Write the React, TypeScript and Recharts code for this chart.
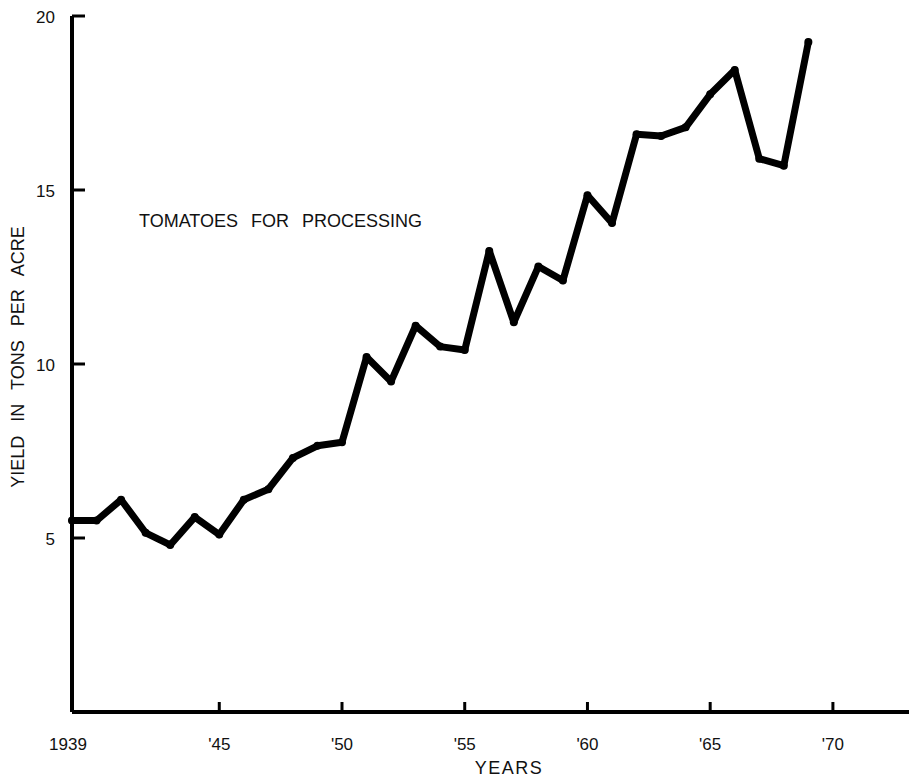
import { LineChart, Line, XAxis, YAxis } from 'recharts';

const years = [
  1939, 1940, 1941, 1942, 1943, 1944, 1945, 1946, 1947, 1948, 1949,
  1950, 1951, 1952, 1953, 1954, 1955, 1956, 1957, 1958, 1959,
  1960, 1961, 1962, 1963, 1964, 1965, 1966, 1967, 1968, 1969,
];
const yields = [
  5.5, 5.5, 6.1, 5.15, 4.8, 5.6, 5.1, 6.1, 6.4, 7.3, 7.65,
  7.75, 10.2, 9.5, 11.1, 10.5, 10.4, 13.25, 11.2, 12.8, 12.4,
  14.85, 14.05, 16.6, 16.55, 16.8, 17.75, 18.45, 15.9, 15.7, 19.25,
];
const xTicks = [1939, 1945, 1950, 1955, 1960, 1965, 1970];
const yTicks = [5, 10, 15, 20];

const data = years.map((year, i) => ({ year, yield: yields[i] }));

const FONT = '"Liberation Sans", Arial, sans-serif';

const fmtYear = (v: number) => (v === 1939 ? '1939' : `'${String(v).slice(2)}`);

function YTick({ x, y, payload }: any) {
  return (
    <g>
      <line x1={x} x2={x + 13} y1={y} y2={y} stroke="#000" strokeWidth={3} />
      <text
        x={x - 17}
        y={y + 1}
        dy="0.35em"
        textAnchor="end"
        fontFamily={FONT}
        fontSize={17}
        fill="#111"
      >
        {payload.value}
      </text>
    </g>
  );
}

function XTick({ x, y, payload }: any) {
  return (
    <g>
      {payload.value !== 1939 && (
        <line x1={x} x2={x} y1={y} y2={y - 10} stroke="#000" strokeWidth={3} />
      )}
      <text
        x={payload.value === 1939 ? x - 4 : x}
        y={y + 38}
        textAnchor="middle"
        fontFamily={FONT}
        fontSize={17}
        fill="#111"
      >
        {fmtYear(payload.value)}
      </text>
    </g>
  );
}

export default function App() {
  return (
    <div style={{ position: 'absolute', left: 0, top: 0, width: 909, height: 779, background: '#fff' }}>
      <LineChart
        width={909}
        height={779}
        data={data}
        margin={{ top: 16, right: 0, bottom: 0, left: 0 }}
      >
        <XAxis
          dataKey="year"
          type="number"
          domain={[1939, 1973.1]}
          ticks={xTicks}
          interval={0}
          height={67}
          tickSize={0}
          tickMargin={0}
          tickLine={false}
          axisLine={{ stroke: '#000', strokeWidth: 4 }}
          tick={<XTick />}
        />
        <YAxis
          type="number"
          domain={[0, 20]}
          ticks={yTicks}
          interval={0}
          width={72}
          tickSize={0}
          tickMargin={0}
          tickLine={false}
          axisLine={{ stroke: '#000', strokeWidth: 4 }}
          tick={<YTick />}
        />
        <Line
          type="linear"
          dataKey="yield"
          stroke="#000"
          strokeWidth={7}
          strokeLinejoin="round"
          strokeLinecap="round"
          dot={{ r: 4, fill: '#000', stroke: 'none' }}
          isAnimationActive={false}
        />
      </LineChart>
      <svg
        width={909}
        height={779}
        style={{ position: 'absolute', left: 0, top: 0, pointerEvents: 'none' }}
      >
        <text x={139} y={227} fontFamily={FONT} fontSize={18} fill="#111" style={{ wordSpacing: '8px' }}>
          TOMATOES FOR PROCESSING
        </text>
        <text
          x={18}
          y={357}
          transform="rotate(-90 18 357)"
          textAnchor="middle"
          dominantBaseline="central"
          fontFamily={FONT}
          fontSize={18}
          fill="#111"
          style={{ wordSpacing: '9px' }}
        >
          YIELD IN TONS PER ACRE
        </text>
        <text x={509} y={774} textAnchor="middle" fontFamily={FONT} fontSize={18} fill="#111" letterSpacing={1.5}>
          YEARS
        </text>
      </svg>
    </div>
  );
}
